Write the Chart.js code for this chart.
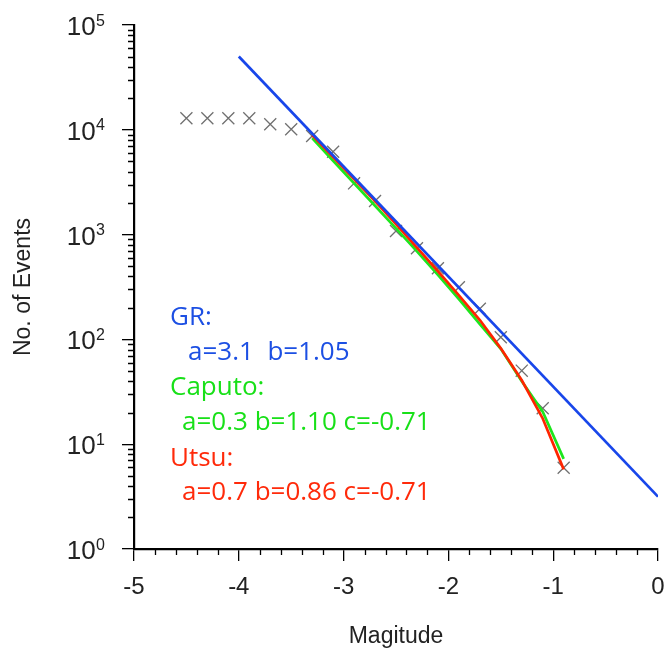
<!DOCTYPE html>
<html><head><meta charset="utf-8">
<script src="https://cdn.jsdelivr.net/npm/chart.js@4/dist/chart.umd.min.js"></script>
<style>html,body{margin:0;padding:0;background:#fff}#wrap{width:668px;height:650px}</style>
</head><body><div id="wrap"><canvas id="c" width="668" height="650"></canvas></div>
<script>
// ---- data ----
const magnitudes = [-4.5,-4.3,-4.1,-3.9,-3.7,-3.5,-3.3,-3.1,-2.9,-2.7,-2.5,-2.3,-2.1,-1.9,-1.7,-1.5,-1.3,-1.1,-0.9];
const observedCounts = [12880,12880,12880,12880,11280,10110,8730,6180,3085,2093,1082,740,477,314,196,105,50.3,22,5.97];
const grMagnitudes = [-4, 0];
const grCounts = [50000, 3.16];
const fitMagnitudes = [-3.3,-3.1,-2.9,-2.7,-2.5,-2.3,-2.1,-1.9,-1.7,-1.5,-1.3,-1.1,-0.9];
const caputoCounts = [8318,5070,3090,1884,1148,692,412,243,140,81.3,39.8,20.4,7.24];
const utsuCounts = [8913,5495,3388,2089,1259,750,447,263,153,82.2,40.7,17.6,5.75];
const xTickValues = [-5,-4,-3,-2,-1,0];
const yTickExponents = [0,1,2,3,4,5];
const annotationLines = [
  {text:'GR:', color:'#1c4fe3'},
  {text:'a=3.1  b=1.05', color:'#1c4fe3'},
  {text:'Caputo:', color:'#18e018'},
  {text:'a=0.3 b=1.10 c=-0.71', color:'#18e018'},
  {text:'Utsu:', color:'#ff2a0a'},
  {text:'a=0.7 b=0.86 c=-0.71', color:'#ff2a0a'}
];
const xTitle = 'Magitude';
const yTitle = 'No. of Events';

const pts = (xs, ys) => xs.map((m, i) => ({x: m, y: ys[i]}));

const axisDecor = {
  id: 'axisDecor',
  afterDraw(chart) {
    const {ctx, chartArea: a, scales: {x, y}} = chart;
    ctx.save();
    ctx.strokeStyle = '#000';
    ctx.lineWidth = 1.3;
    ctx.beginPath();
    for (let e = 0; e < 5; e++) {
      for (let d = 2; d <= 9; d++) {
        const py = Math.round(y.getPixelForValue(d * Math.pow(10, e))) + 0.5;
        ctx.moveTo(a.left - 6, py); ctx.lineTo(a.left, py);
      }
    }
    for (let i = 1; i < 25; i++) {
      if (i % 5 === 0) continue;
      const px = Math.round(x.getPixelForValue(-5 + i * 0.2)) + 0.5;
      ctx.moveTo(px, a.bottom); ctx.lineTo(px, a.bottom + 6);
    }
    ctx.stroke();
    // y tick labels 10^n
    ctx.fillStyle = '#222';
    yTickExponents.forEach(e => {
      const py = y.getPixelForValue(Math.pow(10, e));
      const right = a.left - 29;
      ctx.font = '16px "Liberation Sans", Arial, sans-serif';
      const ew = ctx.measureText(String(e)).width;
      ctx.textAlign = 'left'; ctx.textBaseline = 'alphabetic';
      ctx.fillText(String(e), right - ew, py + 0.5);
      ctx.font = '26px "Liberation Sans", Arial, sans-serif';
      ctx.textAlign = 'right';
      ctx.fillText('10', right - ew - 0.5, py + 10);
    });
    // annotation block
    ctx.font = '26px "Open Sans", "Noto Sans", sans-serif';
    ctx.textAlign = 'left'; ctx.textBaseline = 'alphabetic';
    const baseY = [325, 360, 395, 430, 466, 500];
    const leftX = [170, 188, 170, 182, 170, 182];
    annotationLines.forEach((l, i) => {
      ctx.fillStyle = l.color;
      ctx.fillText(l.text, leftX[i], baseY[i]);
    });
    ctx.restore();
  }
};

new Chart(document.getElementById('c'), {
  type: 'scatter',
  data: {
    datasets: [
      {label: 'GR', data: pts(grMagnitudes, grCounts), showLine: true, borderColor: '#1846ea', borderWidth: 2.7, pointRadius: 0, order: 1},
      {label: 'Utsu', data: pts(fitMagnitudes, utsuCounts), showLine: true, borderColor: '#ff2400', borderWidth: 2.7, pointRadius: 0, order: 2},
      {label: 'Caputo', data: pts(fitMagnitudes, caputoCounts), showLine: true, borderColor: '#1de61d', borderWidth: 2.7, pointRadius: 0, order: 3},
      {label: 'Observed', data: pts(magnitudes, observedCounts), showLine: false, pointStyle: 'crossRot', pointRadius: 8.5, borderColor: '#707070', backgroundColor: '#707070', borderWidth: 1.3, order: 4}
    ]
  },
  options: {
    responsive: false,
    animation: false,
    devicePixelRatio: 1,
    layout: {padding: {top: 25, right: 10, bottom: 0, left: 0}},
    plugins: {legend: {display: false}, tooltip: {enabled: false}},
    scales: {
      x: {
        type: 'linear', min: -5, max: 0,
        afterBuildTicks: s => { s.ticks = xTickValues.map(v => ({value: v})); },
        afterFit: s => { s.height = 101; s.paddingLeft = 0; s.paddingRight = 0; },
        border: {display: true, color: '#000', width: 2.2},
        grid: {drawOnChartArea: false, drawTicks: true, tickLength: 12, color: '#000', lineWidth: 1.3},
        ticks: {padding: 12, color: '#222', font: {family: '"Liberation Sans", Arial, sans-serif', size: 24}, callback: v => String(v), maxRotation: 0, autoSkip: false},
        title: {display: true, text: xTitle, color: '#222', font: {family: '"Liberation Sans", Arial, sans-serif', size: 23}, padding: {top: 0, bottom: 0}}
      },
      y: {
        type: 'logarithmic', min: 1, max: 100000,
        afterBuildTicks: s => { s.ticks = yTickExponents.map(e => ({value: Math.pow(10, e)})); },
        afterFit: s => { s.width = 134; s.paddingTop = 0; s.paddingBottom = 0; },
        border: {display: true, color: '#000', width: 2.2},
        grid: {drawOnChartArea: false, drawTicks: true, tickLength: 12, color: '#000', lineWidth: 1.3},
        ticks: {display: false},
        title: {display: true, text: yTitle, color: '#222', font: {family: '"Liberation Sans", Arial, sans-serif', size: 23}, padding: {top: 10, bottom: 0}}
      }
    }
  },
  plugins: [axisDecor]
});
</script>
</body></html>
